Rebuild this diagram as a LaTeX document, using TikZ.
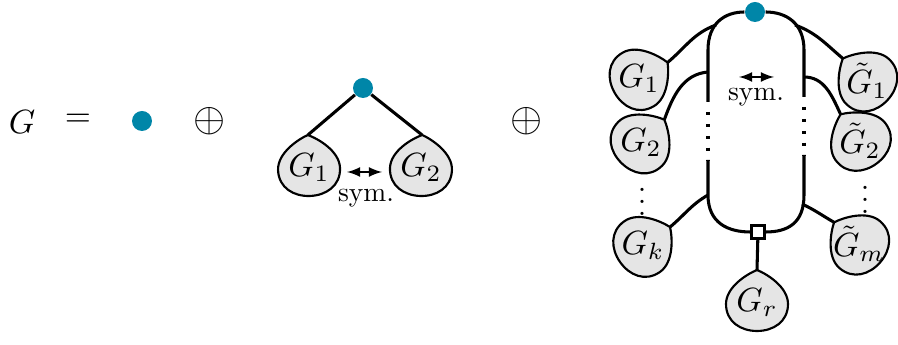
\documentclass[tikz,border=0pt]{standalone}
\usetikzlibrary{arrows, positioning}
\definecolor{dotblue}{RGB}{0,134,168}

% blob: name, x, y, direction of tip, label
\newcommand{\blob}[5]{%
  \begin{scope}[shift={(#2,#3)}, rotate=#4-90]
    \draw[blobline] (0,33) coordinate (#1t)
      .. controls (-10,29) and (-31,16) .. (-31,-1)
      .. controls (-31,-19) and (-16,-28) .. (0,-28)
      .. controls (16,-28) and (31,-19) .. (31,-1)
      .. controls (31,16) and (10,29) .. (0,33) -- cycle;
  \end{scope}
  \node[inner sep=0pt, scale=1.1] (#1) at (#2,#3) {#5};}

\begin{document}
\begin{tikzpicture}[x=0.0115cm, y=0.0115cm,
		blobline/.style={fill=gray!20, line width=0.7pt, line join=round},
		leaf/.style={circle, fill=dotblue, minimum size=0.23cm, inner sep=0pt},
		edge/.style={line width=1pt},
		gap/.style={line width=1pt, dash pattern=on 1pt off 2.9pt},
		root/.style={rectangle, draw, fill=white, line width=1pt, minimum size=0.14cm, inner sep=0pt},
		sym/.style={<->, >=latex, line width=0.5pt},
		symtext/.style={scale=0.9},
		sum/.style={scale=1.35}
		]
		\useasboundingbox (0,0) rectangle (898,345);

		\node[scale=1.1] (G) at (22,223) {$G$};
		\node[scale=1.1] (eq) at (78,225) {$=$};
		\node[leaf] (V0) at (142,224) {};
		\node[sum] (P1) at (210,224) {$\oplus$};

		% cherry
		\node[leaf] (V1) at (363,257) {};
		\blob{A1}{309}{177}{92}{$G_1$}
		\blob{A2}{421}{177}{88}{$G_2$}
		\draw[edge] (V1) -- (A1t);
		\draw[edge] (V1) -- (A2t);
		\coordinate (a1) at (347,173);
		\coordinate (a2) at (382,173);
		\draw[sym] (a1) -- (a2);
		\node[symtext] (S1) at (366,147) {sym.};

		\node[sum] (P2) at (527,224) {$\oplus$};

		% loop with root
		\node[leaf] (V2) at (755,333) {};
		\node[root] (R) at (758,113) {};
		\coordinate (La) at (708,243);
		\coordinate (Lb) at (708,185);
		\coordinate (Ra) at (804,248);
		\coordinate (Rb) at (804,190);
		\draw[edge] (La) -- (708,295) .. controls (708,322) and (725,333) .. (V2);
		\draw[edge] (Ra) -- (804,295) .. controls (804,322) and (786,333) .. (V2);
		\draw[gap] (708,233) -- (Lb);
		\draw[gap] (804,238) -- (Rb);
		\draw[edge] (Lb) -- (708,150) .. controls (708,122) and (728,113) .. (R);
		\draw[edge] (Rb) -- (804,150) .. controls (804,122) and (788,113) .. (R);

		\coordinate (L1) at (716,320);
		\coordinate (L2) at (708,273);
		\coordinate (L3) at (708,150);
		\coordinate (R1) at (795,320);
		\coordinate (R2) at (804,268);
		\coordinate (R3) at (802,141);

		\blob{B1}{639}{266}{30}{$G_1$}
		\blob{B2}{641}{202}{45}{$G_2$}
		\blob{Bk}{643}{99}{35}{$G_k$}
		\blob{C1}{867}{264}{137}{$\tilde{G}_1$}
		\blob{C2}{860}{204}{126}{$\tilde{G}_2$}
		\blob{Cm}{859}{101}{139}{$\tilde{G}_m$}
		\blob{Br}{757}{42}{90}{$G_r$}

		\draw[edge] (B1t) to[out=40, in=200] (L1);
		\draw[edge] (B2t) to[out=70, in=185] (L2);
		\draw[edge] (Bkt) to[out=40, in=210] (L3);
		\draw[edge] (C1t) to[out=140, in=-20] (R1);
		\draw[edge] (C2t) to[out=115, in=0] (R2);
		\draw[edge] (Cmt) to[out=150, in=-25] (R3);
		\draw[edge] (R) -- (Brt);

		\node (D1) at (642,152) {$\vdots$};
		\node (D2) at (865,154) {$\vdots$};

		\coordinate (b1) at (739,268);
		\coordinate (b2) at (774,268);
		\draw[sym] (b1) -- (b2);
		\node[symtext] (S2) at (756,248) {sym.};

	\end{tikzpicture}
\end{document}
